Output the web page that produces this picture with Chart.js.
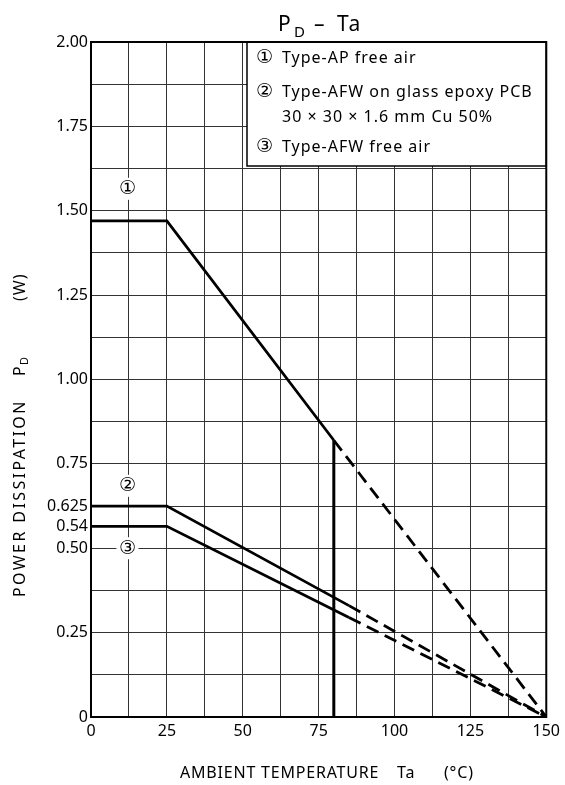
<!DOCTYPE html>
<html lang="en">
<head>
  <meta charset="UTF-8">
  <title>PD - Ta</title>
  <script src="https://cdn.jsdelivr.net/npm/chart.js"></script>
  <style>
    html, body { margin: 0; padding: 0; background: #fff; }
    .chart-box { width: 565px; height: 785px; }
  </style>
</head>
<body>
  <div class="chart-box">
    <canvas id="pdChart" width="565" height="785"></canvas>
  </div>

  <script>
    // curve break points
    const apTemp = [0, 25, 80, 150];
    const apPower = [1.47, 1.47, 0.82, 0];
    const pcbTemp = [0, 25, 85, 150];
    const pcbPower = [0.625, 0.625, 0.33, 0];
    const afwTemp = [0, 25, 85, 150];
    // the sheet draws the "0.54" line a little high, keep it where it is drawn
    const afwPower = [0.565, 0.565, 0.295, 0];
    // vertical limit at 80 °C
    const limitTemp = [80, 80];
    const limitPower = [0, 0.82];
    // past these temperatures the curves are dashed
    const solidEnd = [80, 85, 85];

    const xGrid = [0, 12.5, 25, 37.5, 50, 62.5, 75, 87.5, 100, 112.5, 125, 137.5, 150];
    const xLabels = [0, 25, 50, 75, 100, 125, 150];
    const yGrid = [0, 0.125, 0.25, 0.375, 0.5, 0.565, 0.625, 0.75, 0.875, 1, 1.125, 1.25, 1.375, 1.5, 1.625, 1.75, 1.875, 2];
    const yLabelValues = [0, 0.25, 0.5, 0.565, 0.625, 0.75, 1, 1.25, 1.5, 1.75, 2];
    const yLabelText = ['0', '0.25', '0.50', '0.54', '0.625', '0.75', '1.00', '1.25', '1.50', '1.75', '2.00'];
    const noGridAt = 0.565;

    const curveMarks = ['①', '②', '③'];
    const legendMarks = ['①', '②', '', '③'];
    const legendLines = [
      'Type-AP free air',
      'Type-AFW on glass epoxy PCB',
      '30 × 30 × 1.6 mm Cu 50%',
      'Type-AFW free air'
    ];
    const markPower = [1.565, 0.685, 0.50];
    const markTemp = 12;

    const FONT = '"Noto Sans", "DejaVu Sans", sans-serif';

    function pts(xs, ys) {
      return xs.map((x, i) => ({ x: x, y: ys[i] }));
    }

    function curve(xs, ys, cut) {
      return {
        data: pts(xs, ys),
        borderColor: '#000',
        borderWidth: 2.8,
        pointRadius: 0,
        fill: false,
        tension: 0,
        segment: {
          borderDash: c => c.p0.parsed.x >= cut - 0.01 ? [13, 7] : undefined
        }
      };
    }

    const sheetText = {
      id: 'sheetText',
      afterDatasetsDraw(chart) {
        const { ctx, chartArea: a, scales } = chart;
        ctx.save();

        // legend box
        const bx = 247, by = a.top, bw = a.right - 247, bh = 166 - a.top;
        ctx.fillStyle = '#fff';
        ctx.fillRect(bx, by, bw, bh);
        ctx.strokeStyle = '#000';
        ctx.lineWidth = 1.5;
        ctx.strokeRect(bx, by, bw, bh);

        ctx.fillStyle = '#000';
        ctx.textBaseline = 'middle';
        ctx.textAlign = 'left';
        const ly = [58, 92, 117, 147];
        legendLines.forEach((t, i) => {
          ctx.letterSpacing = '0px';
          ctx.font = '19px ' + FONT;
          if (legendMarks[i]) ctx.fillText(legendMarks[i], 256, ly[i]);
          ctx.letterSpacing = '1px';
          ctx.font = '16px ' + FONT;
          ctx.fillText(t, 282, ly[i]);
        });
        ctx.letterSpacing = '0px';

        // circled curve numbers
        ctx.textAlign = 'center';
        ctx.font = '19px ' + FONT;
        curveMarks.forEach((m, i) => {
          const px = scales.x.getPixelForValue(markTemp);
          const py = scales.y.getPixelForValue(markPower[i]);
          ctx.fillStyle = '#fff';
          ctx.fillRect(px - 11, py - 11, 22, 22);
          ctx.fillStyle = '#000';
          ctx.fillText(m, px, py);
        });

        // frame
        ctx.lineWidth = 2;
        ctx.strokeRect(a.left, a.top, a.right - a.left, a.bottom - a.top);

        // title  P_D - Ta
        ctx.textBaseline = 'alphabetic';
        ctx.textAlign = 'left';
        ctx.font = '21px ' + FONT;
        ctx.fillText('P', 278, 31);
        ctx.font = '15px ' + FONT;
        ctx.fillText('D', 294, 37);
        ctx.font = '21px ' + FONT;
        ctx.fillText('–', 314, 31);
        ctx.letterSpacing = '1.5px';
        ctx.fillText('Ta', 337, 31);

        // x title
        ctx.font = '16px ' + FONT;
        ctx.letterSpacing = '0.8px';
        ctx.textBaseline = 'middle';
        ctx.fillText('AMBIENT TEMPERATURE', 180, 773);
        ctx.fillText('Ta', 397, 773);
        ctx.fillText('(°C)', 444, 773);

        // y title, rotated: screen y = -u
        ctx.translate(20, 0);
        ctx.rotate(-Math.PI / 2);
        ctx.letterSpacing = '2.4px';
        ctx.fillText('POWER DISSIPATION', -597, 0);
        ctx.letterSpacing = '0px';
        ctx.fillText('P', -376, 0);
        ctx.font = '11px ' + FONT;
        ctx.fillText('D', -365, 5);
        ctx.font = '16px ' + FONT;
        ctx.letterSpacing = '1px';
        ctx.fillText('(W)', -301, 0);

        ctx.restore();
      }
    };

    new Chart(document.getElementById('pdChart'), {
      type: 'line',
      data: {
        datasets: [
          curve(apTemp, apPower, solidEnd[0]),
          curve(pcbTemp, pcbPower, solidEnd[1]),
          curve(afwTemp, afwPower, solidEnd[2]),
          {
            data: pts(limitTemp, limitPower),
            borderColor: '#000',
            borderWidth: 3,
            pointRadius: 0
          }
        ]
      },
      options: {
        responsive: false,
        animation: false,
        devicePixelRatio: 1,
        layout: { padding: { top: 42, right: 18, left: 0, bottom: 0 } },
        plugins: {
          legend: { display: false },
          tooltip: { enabled: false },
          title: { display: false }
        },
        scales: {
          x: {
            type: 'linear',
            min: 0,
            max: 150,
            afterBuildTicks: s => { s.ticks = xGrid.map(v => ({ value: v })); },
            afterFit: s => { s.height = 68; },
            ticks: {
              autoSkip: false,
              maxRotation: 0,
              padding: 5,
              color: '#000',
              font: { family: FONT, size: 16 },
              callback: v => xLabels.includes(v) ? String(v) : ''
            },
            grid: { color: '#333', lineWidth: 1, tickLength: 0 },
            border: { display: false }
          },
          y: {
            type: 'linear',
            min: 0,
            max: 2,
            afterBuildTicks: s => { s.ticks = yGrid.map(v => ({ value: v })); },
            afterFit: s => { s.width = 91; },
            ticks: {
              autoSkip: false,
              padding: 3,
              color: '#000',
              font: { family: FONT, size: 16 },
              callback: v => {
                const i = yLabelValues.indexOf(v);
                return i >= 0 ? yLabelText[i] : '';
              }
            },
            grid: {
              color: c => (c.tick && c.tick.value === noGridAt) ? 'rgba(0,0,0,0)' : '#333',
              lineWidth: 1,
              tickLength: 0
            },
            border: { display: false }
          }
        }
      },
      plugins: [sheetText]
    });
  </script>
</body>
</html>
